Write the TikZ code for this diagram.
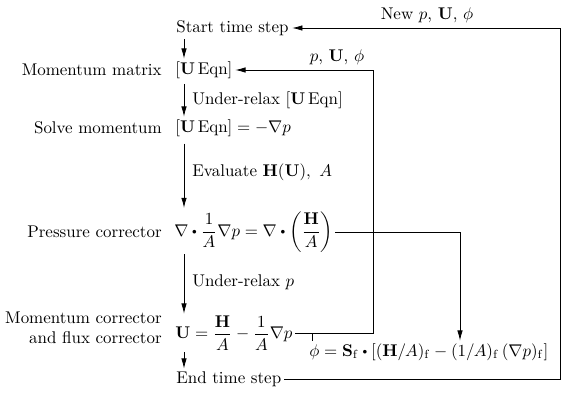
\documentclass[tikz,border=0pt]{standalone}
\usepackage{amsmath,amssymb}
\usepackage{xcolor}
\usepackage{tikz}
\usetikzlibrary{arrows.meta,positioning,calc}
\tikzset{
  pisotext/.style={inner sep=0pt,font=\normalsize},
  pisoleft/.style={pisotext,anchor=east,align=right},
  pisostep/.style={pisotext,anchor=west},
  pisoflow/.style={-{Latex[length=6pt,width=3.2pt]},line width=0.45pt},
  pisoline/.style={line width=0.45pt},
}
\newcommand{\pdot}{\mathbin{\vcenter{\hbox{\scalebox{0.55}{$\bullet$}}}}}
\newcommand{\ueqn}{[\mathbf{U}\,\mathrm{Eqn}]}

\begin{document}
\begin{tikzpicture}[x=0.59pt,y=-0.59pt]
\useasboundingbox (0,0) rectangle (567,403);
\coordinate (sp) at (184,0);
\coordinate (ri) at (373,0);
\coordinate (rp) at (460,0);
\coordinate (ro) at (560,0);
\coordinate (tk) at (312,0);
% steps of the time loop
\node[pisostep] (start) at (176,28) {Start time step};
\node[pisostep] (umat) at (175,70) {$\ueqn$};
\node[pisostep] (solve) at (175,128) {$\ueqn = -\nabla p$};
\node[pisostep] (pres) at (174,232) {$\nabla\pdot\dfrac{1}{A}\nabla p = \nabla\pdot\left(\dfrac{\mathbf{H}}{A}\right)$};
\node[pisostep] (corr) at (175,333) {$\mathbf{U} = \dfrac{\mathbf{H}}{A} - \dfrac{1}{A}\nabla p$};
\node[pisostep] (end) at (176,379) {End time step};
\node[pisostep] (flux) at (309,352) {$\phi = \mathbf{S}_{\mathrm{f}}\pdot[(\mathbf{H}/A)_{\mathrm{f}} - (1/A)_{\mathrm{f}}\,(\nabla p)_{\mathrm{f}}]$};
% names on the left
\node[pisoleft] (lmat) at (162,70) {Momentum matrix};
\node[pisoleft] (lsolve) at (162,128) {Solve momentum};
\node[pisoleft] (lpres) at (162,232) {Pressure corrector};
\node[pisoleft] (lcorr) at (162,328) {Momentum corrector\\and flux corrector};
% notes on the arrows
\node[pisostep] (nrel) at (192,100) {Under-relax $\ueqn$};
\node[pisostep] (neval) at (192,172) {Evaluate $\mathbf{H}(\mathbf{U}),\ A$};
\node[pisostep] (nrelp) at (192,282) {Under-relax $p$};
\node[pisotext] (newv) at (427,15) {New $p$, $\mathbf{U}$, $\phi$};
\node[pisotext] (oldv) at (337,57) {$p$, $\mathbf{U}$, $\phi$};
% down the column
\draw[pisoflow,shorten <=2pt,shorten >=1.5pt] (start.south -| sp) -- (umat.north -| sp);
\draw[pisoflow,shorten <=3pt,shorten >=1.5pt] (umat.south -| sp) -- (solve.north -| sp);
\draw[pisoflow,shorten <=4pt,shorten >=2pt] (solve.south -| sp) -- (pres.north -| sp);
\draw[pisoflow,shorten <=1pt,shorten >=1pt] (pres.south -| sp) -- (corr.north -| sp);
\draw[pisoflow,shorten <=1pt,shorten >=1.5pt] (corr.south -| sp) -- (end.north -| sp);
% loops back
\draw[pisoflow,shorten <=1.5pt,shorten >=2pt] (end.east) -- (end.east -| ro) -- (start.east -| ro) -- (start.east);
\draw[pisoflow,shorten <=1.5pt,shorten >=1.5pt] (corr.east) -- (corr.east -| ri) -- (umat.east -| ri) -- (umat.east);
\draw[pisoflow,shorten <=1pt,shorten >=1.5pt] (pres.east) -- (pres.east -| rp) -- (flux.north -| rp);
\draw[pisoline] (corr.east -| tk) -- ([yshift=1pt]flux.north -| tk);
\end{tikzpicture}
\end{document}
